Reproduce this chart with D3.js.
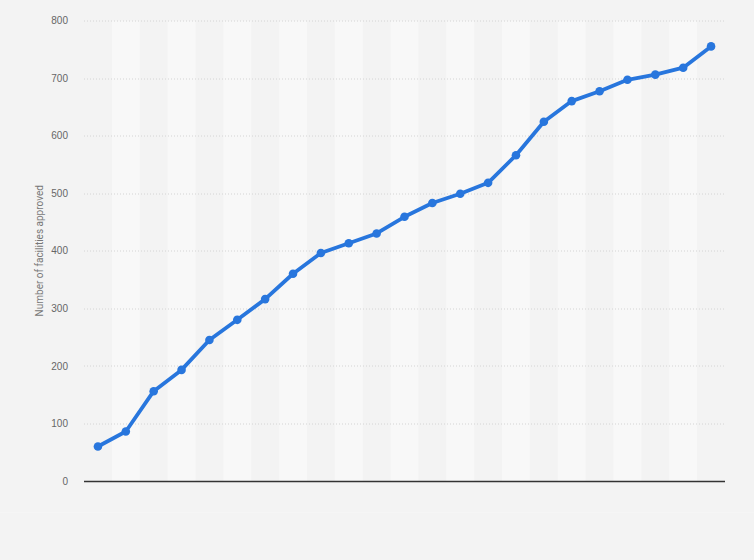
<!DOCTYPE html>
<html>
<head>
<meta charset="utf-8">
<script src="https://cdn.jsdelivr.net/npm/d3@7"></script>
<style>
  html, body { margin: 0; padding: 0; background: #f3f3f3; }
  svg { display: block; font-family: Roboto, "Open Sans", Arial, sans-serif; }
</style>
</head>
<body>
<div id="chart"></div>
<script>
// one point per period (no x labels shown)
const periods = d3.range(23).map(i => 'P' + (i + 1));
const approved = [60, 86, 156, 193, 245, 280, 316, 360, 396, 413, 430, 459, 483, 499, 518,
  566, 624, 660, 677, 697, 706, 718, 755];
const yTicks = [0, 100, 200, 300, 400, 500, 600, 700, 800];
const yTitle = 'Number of facilities approved';

const width = 754, height = 560;
const margin = { top: 20.5, right: 29, bottom: 79, left: 84 };
const w = width - margin.left - margin.right;
const h = height - margin.top - margin.bottom;

const svg = d3.select('#chart').append('svg').attr('width', width).attr('height', height);
svg.append('rect').attr('width', width).attr('height', height).attr('fill', '#f3f3f3');
svg.append('line').attr('x1', 0).attr('x2', width).attr('y1', 512.5).attr('y2', 512.5)
  .attr('stroke', '#f5f5f5').attr('stroke-width', 1);

const g = svg.append('g').attr('transform', `translate(${margin.left},${margin.top})`);

const x = d3.scaleBand().domain(periods).range([0, w]);
const y = d3.scaleLinear().domain([0, 800]).range([h, 0]);

// alternating column bands
g.selectAll('.band').data(periods.filter((d, i) => i % 2 === 1)).enter().append('rect')
  .attr('class', 'band')
  .attr('x', d => x(d)).attr('y', 0)
  .attr('width', x.bandwidth()).attr('height', h)
  .attr('fill', '#f8f8f8');

// gridlines
g.selectAll('.grid').data(yTicks.filter(t => t > 0)).enter().append('line')
  .attr('class', 'grid')
  .attr('x1', 0).attr('x2', w)
  .attr('y1', d => Math.round(y(d)) + 0.5).attr('y2', d => Math.round(y(d)) + 0.5)
  .attr('stroke', '#d4d4d4').attr('stroke-width', 1).attr('stroke-dasharray', '1,2');

// y axis labels
const yAxis = g.append('g')
  .call(d3.axisLeft(y).tickValues(yTicks).tickSize(0).tickPadding(16));
yAxis.select('.domain').remove();
yAxis.selectAll('text').attr('fill', '#666').attr('font-size', 10);

svg.append('text')
  .attr('transform', `translate(43,${margin.top + h / 2}) rotate(-90)`)
  .attr('text-anchor', 'middle').attr('fill', '#777').attr('font-size', 10)
  .text(yTitle);

// baseline
g.append('line').attr('x1', 0).attr('x2', w).attr('y1', y(0) + 0.5).attr('y2', y(0) + 0.5)
  .attr('stroke', '#333').attr('stroke-width', 1.5);

const cx = d => x(d) + x.bandwidth() / 2;
const line = d3.line().x((d, i) => cx(periods[i])).y(d => y(d));

g.append('path').datum(approved).attr('d', line)
  .attr('fill', 'none').attr('stroke', '#2876dd').attr('stroke-width', 3.8)
  .attr('stroke-linejoin', 'round').attr('stroke-linecap', 'round');

g.selectAll('.dot').data(approved).enter().append('circle')
  .attr('class', 'dot')
  .attr('cx', (d, i) => cx(periods[i])).attr('cy', d => y(d)).attr('r', 4.3)
  .attr('fill', '#2876dd');
</script>
</body>
</html>
